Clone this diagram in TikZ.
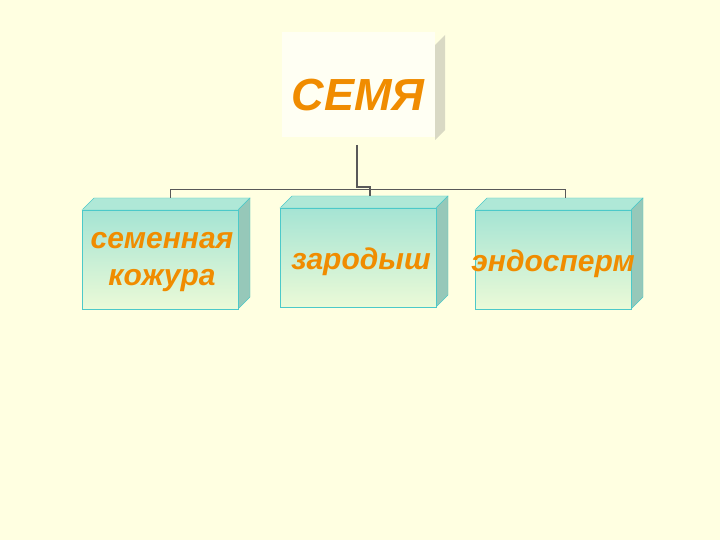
\documentclass[tikz,border=0pt]{standalone}
\usepackage{fontspec}
\setmainfont{Liberation Sans}
\begin{document}
\begin{tikzpicture}[x=1pt,y=-1pt,
  lbl/.style={text=txtor,font=\bfseries\itshape\fontsize{30}{37}\selectfont,align=center},
  front/.style={draw=teal!60!cyan!70,top color=boxtop,bottom color=boxbot},
  side/.style={draw=teal!60!cyan!70,fill=boxside},
  topf/.style={draw=teal!60!cyan!70,fill=boxtopf},
  conn/.style={draw=gray!70!black,line width=1.5pt}]
\definecolor{bg}{RGB}{255,255,225}
\definecolor{txtor}{RGB}{240,140,0}
\definecolor{boxtop}{RGB}{165,228,212}
\definecolor{boxbot}{RGB}{235,250,215}
\definecolor{boxside}{RGB}{150,200,185}
\definecolor{boxtopf}{RGB}{175,232,215}
\fill[bg] (0,0) rectangle (720,540);
\useasboundingbox (0,0) rectangle (720,540);
% top box
\fill[white!60!bg] (282,32) rectangle (435,137);
\fill[gray!30!bg] (435,45) -- (445,35) -- (445,130) -- (435,140) -- cycle;
\node[lbl,font=\bfseries\itshape\fontsize{45}{45}\selectfont] (top) at (358,95) {СЕМЯ};
\coordinate (tb) at (357,145);
% boxes
\foreach \n/\x/\y in {a/82/210,b/280/208,c/475/210}{
  \path[topf] (\x,\y) -- (\x+12,\y-12) -- (\x+168,\y-12) -- (\x+156,\y) -- cycle;
  \path[side] (\x+156,\y) -- (\x+168,\y-12) -- (\x+168,\y+87) -- (\x+156,\y+99) -- cycle;
  \path[front] (\x,\y) rectangle (\x+156,\y+99);
}
\node[lbl] (a) at (162,262) {семенная\\ кожура};
\node[lbl] (b) at (361,262) {зародыш};
\node[lbl] (c) at (553,264) {эндосперм};
\coordinate (ta) at (170,198);
\coordinate (tbb) at (370,196);
\coordinate (tc) at (565,198);
\draw[conn] (tb) -- (357,187) -- (370,187) -- (tbb);
\draw[conn,line width=1pt] (ta) -- (170,190) -- (565,190) -- (tc);
\end{tikzpicture}
\end{document}
